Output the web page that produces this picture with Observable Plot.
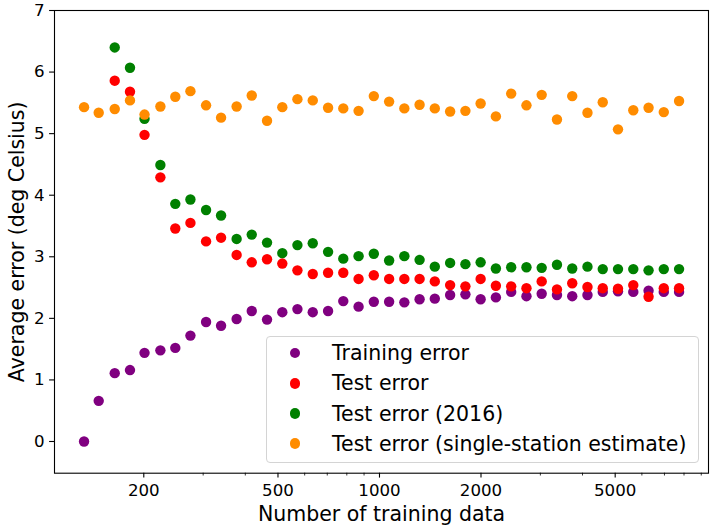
<!DOCTYPE html>
<html><head><meta charset="utf-8">
<script src="https://cdn.jsdelivr.net/npm/d3@7"></script>
<script src="https://cdn.jsdelivr.net/npm/@observablehq/plot@0.6"></script>
<style>
body{margin:0;background:#fff;}
#wrap{position:relative;width:710px;height:525px;font-family:"DejaVu Sans",sans-serif;}
#legend{position:absolute;left:265.5px;top:336px;width:433px;height:126.5px;box-sizing:border-box;border:1px solid #d4d4d4;border-radius:4px;background:rgba(255,255,255,0.8);}
.row{position:absolute;left:0;width:100%;height:30px;}
.mk{position:absolute;left:23.4px;top:9.8px;width:10.4px;height:10.4px;border-radius:50%;}
.lb{position:absolute;left:65.5px;top:0;line-height:30px;font-size:20.5px;white-space:nowrap;color:#000;}
</style></head>
<body><div id="wrap"></div>
<script>
const nTrain = [133, 147, 164, 182, 201, 224, 248, 275, 306, 339, 377, 418, 464, 515, 571, 634, 704, 781, 867, 962, 1068, 1185, 1315, 1459, 1620, 1798, 1995, 2214, 2458, 2728, 3027, 3360, 3729, 4138, 4593, 5097, 5658, 6280, 6968, 7734];
const trainErr = [0.00, 0.66, 1.11, 1.16, 1.44, 1.48, 1.52, 1.72, 1.94, 1.88, 1.99, 2.12, 1.98, 2.10, 2.15, 2.10, 2.12, 2.28, 2.19, 2.27, 2.27, 2.26, 2.31, 2.32, 2.38, 2.39, 2.31, 2.34, 2.43, 2.36, 2.40, 2.38, 2.36, 2.38, 2.43, 2.44, 2.43, 2.45, 2.43, 2.43];
const testErr = [null, null, 5.86, 5.68, 4.98, 4.29, 3.46, 3.55, 3.25, 3.31, 3.03, 2.91, 2.96, 2.89, 2.78, 2.72, 2.74, 2.74, 2.64, 2.70, 2.64, 2.64, 2.64, 2.60, 2.54, 2.52, 2.64, 2.53, 2.52, 2.49, 2.60, 2.47, 2.57, 2.51, 2.49, 2.48, 2.54, 2.35, 2.49, 2.49];
const test2016Err = [null, null, 6.40, 6.07, 5.24, 4.49, 3.86, 3.93, 3.76, 3.67, 3.29, 3.36, 3.23, 3.06, 3.19, 3.22, 3.08, 2.97, 3.01, 3.05, 2.94, 3.01, 2.95, 2.84, 2.90, 2.88, 2.91, 2.81, 2.83, 2.83, 2.82, 2.87, 2.81, 2.84, 2.80, 2.80, 2.80, 2.78, 2.80, 2.80];
const singleStationErr = [5.43, 5.34, 5.40, 5.54, 5.31, 5.44, 5.60, 5.69, 5.46, 5.26, 5.44, 5.62, 5.21, 5.43, 5.56, 5.54, 5.42, 5.41, 5.37, 5.61, 5.52, 5.41, 5.47, 5.41, 5.36, 5.37, 5.49, 5.28, 5.65, 5.46, 5.63, 5.23, 5.61, 5.34, 5.51, 5.07, 5.38, 5.42, 5.35, 5.53];
const seriesNames = ["Training error", "Test error", "Test error (2016)", "Test error (single-station estimate)"];
const seriesColors = ["#800080", "#ff0000", "#008000", "#ff8c00"];
const xTicks = [200, 500, 1000, 2000, 5000];
const xMinorTicks = [300, 400, 600, 700, 800, 900, 3000, 4000, 6000, 7000, 8000, 9000];
const yTicks = [0, 1, 2, 3, 4, 5, 6, 7];
const xLabel = "Number of training data";
const yLabel = "Average error (deg Celsius)";

const seriesValues = [trainErr, testErr, test2016Err, singleStationErr];
const rows = [];
seriesValues.forEach((vals, s) => {
  vals.forEach((v, i) => {
    if (v != null) rows.push({x: nTrain[i], y: v, series: seriesNames[s]});
  });
});

const chart = Plot.plot({
  width: 710, height: 525,
  marginLeft: 54, marginRight: 2, marginTop: 10, marginBottom: 52.3,
  style: {fontFamily: '"DejaVu Sans", sans-serif', fontSize: "16.67px", color: "#000", background: "#fff"},
  x: {type: "log", domain: [108.7, 9456]},
  y: {domain: [-0.515, 7]},
  color: {domain: seriesNames, range: seriesColors},
  marks: [
    Plot.dot(rows, {x: "x", y: "y", fill: "series", r: 5.2}),
    Plot.frame({stroke: "#000", strokeWidth: 1.1}),
    Plot.axisX({ticks: xTicks, tickFormat: d => String(d), tickSize: 4.9, tickPadding: 6.5, label: null, fontSize: 16.67, strokeWidth: 1.1}),
    Plot.axisX({ticks: xMinorTicks, tickFormat: () => "", tickSize: 2.8, label: null, strokeWidth: 0.8}),
    Plot.axisY({ticks: yTicks, tickSize: 4.9, tickPadding: 5, label: null, fontSize: 16.67, strokeWidth: 1.1}),
    Plot.text([xLabel], {frameAnchor: "bottom", dy: 41.5, lineAnchor: "middle", textAnchor: "middle", fontSize: 20.5}),
    Plot.text([yLabel], {frameAnchor: "left", dx: -37, rotate: -90, lineAnchor: "middle", textAnchor: "middle", fontSize: 20.5})
  ]
});
const wrap = document.getElementById("wrap");
wrap.appendChild(chart);

const legend = document.createElement("div");
legend.id = "legend";
seriesNames.forEach((name, i) => {
  const row = document.createElement("div");
  row.className = "row";
  row.style.top = (1.3 + i * 30.1) + "px";
  const mk = document.createElement("div");
  mk.className = "mk";
  mk.style.background = seriesColors[i];
  const lb = document.createElement("div");
  lb.className = "lb";
  lb.textContent = name;
  row.appendChild(mk);
  row.appendChild(lb);
  legend.appendChild(row);
});
wrap.appendChild(legend);
</script>
</body></html>
